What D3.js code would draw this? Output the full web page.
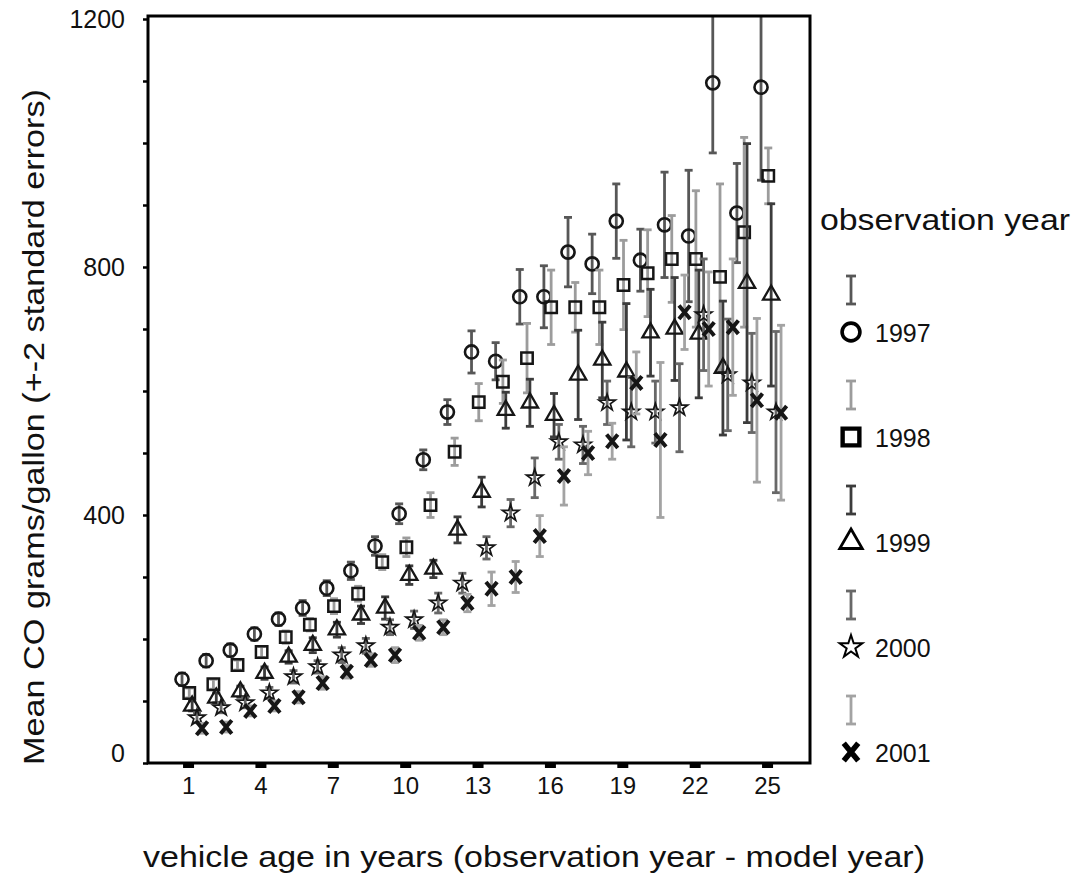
<!DOCTYPE html>
<html>
<head>
<meta charset="utf-8">
<script src="https://cdn.jsdelivr.net/npm/d3@7"></script>
<style>
  body { margin: 0; background: #fff; }
  text { font-family: "Liberation Sans", Arial, sans-serif; fill: #111; }
</style>
</head>
<body>
<svg id="chart" width="1078" height="882"></svg>
<script>
// ages on the x axis
const ages = [1,2,3,4,5,6,7,8,9,10,11,12,13,14,15,16,17,18,19,20,21,22,23,24,25];
const xTickValues = [1,4,7,10,13,16,19,22,25];
const yLabelValues = [0,400,800,1200];
const years = ["1997","1998","1999","2000","2001"];

// mean CO (g/gal) and 2 standard errors
const mean1997 = [135,165,182,208,232,250,282,310,350,402,489,566,663,648,752,752,824,805,874,811,868,850,1097,887,1090];
const err1997  = [10,10,10,10,10,12,12,14,15,16,16,20,34,30,44,50,56,48,60,50,85,106,113,80,150];
const mean1998 = [113,127,158,179,203,223,253,273,324,348,416,502,582,615,653,735,735,735,771,790,813,813,784,856,947];
const err1998  = [8,8,8,9,10,10,12,12,12,15,20,22,30,35,56,60,40,60,72,70,70,110,150,153,45];
const mean1999 = [92,105,115,145,171,190,215,239,250,303,313,376,437,569,581,561,626,650,631,694,700,692,637,774,755];
const err1999  = [8,8,9,10,10,12,12,14,18,15,14,21,24,29,38,35,72,61,110,70,83,103,108,225,147];
const mean2000 = [73,89,97,113,139,155,174,189,219,231,258,290,347,403,460,518,513,581,566,566,573,723,626,613,566];
const err2000  = [8,8,8,9,10,10,12,12,12,14,16,16,18,22,32,28,30,35,56,50,71,90,90,80,130];
const mean2001 = [56,58,84,92,106,129,147,166,174,210,219,258,281,300,366,463,500,519,613,521,727,700,703,585,565];
const err2001  = [8,8,8,8,9,10,10,10,12,12,12,14,27,25,33,47,35,29,50,125,60,92,110,132,141];

const series = [
  {year: "1997", means: mean1997, errs: err1997},
  {year: "1998", means: mean1998, errs: err1998},
  {year: "1999", means: mean1999, errs: err1999},
  {year: "2000", means: mean2000, errs: err2000},
  {year: "2001", means: mean2001, errs: err2001}
];
series.forEach(function(s){
  s.points = ages.map(function(a, i){
    return {year: s.year, age: a, mean: s.means[i], err: s.errs[i]};
  });
});

const frame = {left: 148, right: 810, top: 16, bottom: 763};

const x = d3.scaleLinear().domain([-0.66, 26.78]).range([frame.left, frame.right]);
const y = d3.scaleLinear().domain([0, 1200]).range([763, 19]);

// small sideways shift of each observation year
const dodge = d3.scaleOrdinal().domain(years).range([-0.25, 0.05, 0.17, 0.37, 0.58]);
const barColor = d3.scaleOrdinal().domain(years).range(["#575757", "#9c9c9c", "#3c3c3c", "#686868", "#a3a3a3"]);

// bold x marker
const symbolBigX = {
  draw: function(ctx, size){
    const w = Math.sqrt(size) * 0.5, h = w * 1.2;
    ctx.moveTo(-w, -h); ctx.lineTo(w, h);
    ctx.moveTo(w, -h); ctx.lineTo(-w, h);
  }
};
const symbolType = d3.scaleOrdinal().domain(years)
  .range([d3.symbolCircle, d3.symbolSquare, d3.symbolTriangle, d3.symbolStar, symbolBigX]);
const markSize = d3.scaleOrdinal().domain(years).range([135, 130, 115, 85, 125]);
const markStroke = d3.scaleOrdinal().domain(years).range([2.6, 2.5, 2.3, 1.7, 4]);

const svg = d3.select("#chart");

svg.append("defs").append("clipPath")
  .attr("id", "plotclip")
  .append("rect")
    .attr("x", frame.left)
    .attr("y", frame.top)
    .attr("width", frame.right - frame.left)
    .attr("height", frame.bottom - frame.top);

// y axis
const yAxis = d3.axisLeft(y)
  .tickValues(d3.range(0, 1201, 100))
  .tickSize(5)
  .tickPadding(18)
  .tickFormat(function(d){ return yLabelValues.indexOf(d) >= 0 ? d : ""; });

const gy = svg.append("g")
  .attr("transform", "translate(" + frame.left + ",0)")
  .call(yAxis);
gy.select(".domain").remove();
gy.selectAll(".tick line").attr("stroke", "#000").attr("stroke-width", 2.5);
gy.selectAll(".tick text")
  .style("font-size", "25px")
  .attr("fill", "#111")
  .attr("y", function(d){ return d === 0 ? -10 : 0; });

// x axis
const xAxis = d3.axisBottom(x)
  .tickValues(xTickValues)
  .tickSize(5)
  .tickPadding(9);

const gx = svg.append("g")
  .attr("transform", "translate(0," + frame.bottom + ")")
  .call(xAxis);
gx.select(".domain").remove();
gx.selectAll(".tick line").attr("stroke", "#000").attr("stroke-width", 11);
gx.selectAll(".tick text")
  .style("font-size", "24px")
  .attr("fill", "#111");

// points and error bars
const plot = svg.append("g").attr("clip-path", "url(#plotclip)");

const groups = plot.selectAll(".series")
  .data(series)
  .join("g")
    .attr("class", "series");

groups.each(function(s){
  const g = d3.select(this);
  const cx = function(d){ return x(d.age + dodge(d.year)); };

  const bars = g.selectAll(".ebar")
    .data(s.points)
    .join("g")
      .attr("class", "ebar")
      .attr("stroke", barColor(s.year))
      .attr("stroke-width", 2.8)
      .attr("fill", "none");

  bars.append("line")
    .attr("x1", cx).attr("x2", cx)
    .attr("y1", function(d){ return y(d.mean + d.err); })
    .attr("y2", function(d){ return y(d.mean - d.err); });
  bars.append("line")
    .attr("x1", function(d){ return cx(d) - 4; })
    .attr("x2", function(d){ return cx(d) + 4; })
    .attr("y1", function(d){ return y(d.mean + d.err); })
    .attr("y2", function(d){ return y(d.mean + d.err); });
  bars.append("line")
    .attr("x1", function(d){ return cx(d) - 4; })
    .attr("x2", function(d){ return cx(d) + 4; })
    .attr("y1", function(d){ return y(d.mean - d.err); })
    .attr("y2", function(d){ return y(d.mean - d.err); });

  g.selectAll(".mark")
    .data(s.points)
    .join("path")
      .attr("class", "mark")
      .attr("d", d3.symbol().type(symbolType(s.year)).size(markSize(s.year)))
      .attr("transform", function(d){
        return "translate(" + cx(d) + "," + y(d.mean) + ")";
      })
      .attr("fill", "none")
      .attr("stroke", "#161616")
      .attr("stroke-width", markStroke(s.year));
});

// frame
svg.append("rect")
  .attr("x", frame.left)
  .attr("y", frame.top)
  .attr("width", frame.right - frame.left)
  .attr("height", frame.bottom - frame.top)
  .attr("fill", "none")
  .attr("stroke", "#000")
  .attr("stroke-width", 3);

// axis titles
svg.append("text")
  .attr("x", 534)
  .attr("y", 867)
  .attr("text-anchor", "middle")
  .attr("textLength", 782)
  .attr("lengthAdjust", "spacingAndGlyphs")
  .style("font-size", "29px")
  .text("vehicle age in years (observation year - model year)");

svg.append("text")
  .attr("transform", "translate(44,427) rotate(-90)")
  .attr("text-anchor", "middle")
  .attr("textLength", 676)
  .attr("lengthAdjust", "spacingAndGlyphs")
  .style("font-size", "30px")
  .text("Mean CO grams/gallon (+-2 standard errors)");

// legend
const legend = svg.append("g");
legend.append("text")
  .attr("x", 820)
  .attr("y", 230)
  .attr("textLength", 250)
  .attr("lengthAdjust", "spacingAndGlyphs")
  .style("font-size", "30px")
  .text("observation year");

const legendMarkSize = d3.scaleOrdinal().domain(years).range([250, 280, 220, 160, 210]);
const legendMarkStroke = d3.scaleOrdinal().domain(years).range([3.6, 4.4, 2.8, 2, 5.5]);

const items = legend.selectAll(".item")
  .data(years)
  .join("g")
    .attr("class", "item")
    .attr("transform", function(d, i){ return "translate(851," + (276 + i * 105) + ")"; });

items.append("line")
  .attr("x1", 0).attr("x2", 0).attr("y1", 0).attr("y2", 28)
  .attr("stroke", function(d){ return barColor(d); })
  .attr("stroke-width", 2.8);
items.append("line")
  .attr("x1", -5).attr("x2", 5).attr("y1", 0).attr("y2", 0)
  .attr("stroke", function(d){ return barColor(d); })
  .attr("stroke-width", 2.8);
items.append("line")
  .attr("x1", -5).attr("x2", 5).attr("y1", 28).attr("y2", 28)
  .attr("stroke", function(d){ return barColor(d); })
  .attr("stroke-width", 2.8);

items.append("path")
  .attr("d", function(d){ return d3.symbol().type(symbolType(d)).size(legendMarkSize(d))(); })
  .attr("transform", "translate(0,56)")
  .attr("fill", "none")
  .attr("stroke", "#000")
  .attr("stroke-width", function(d){ return legendMarkStroke(d); });

items.append("text")
  .attr("x", 24)
  .attr("y", 66)
  .style("font-size", "25px")
  .text(function(d){ return d; });
</script>
</body>
</html>
